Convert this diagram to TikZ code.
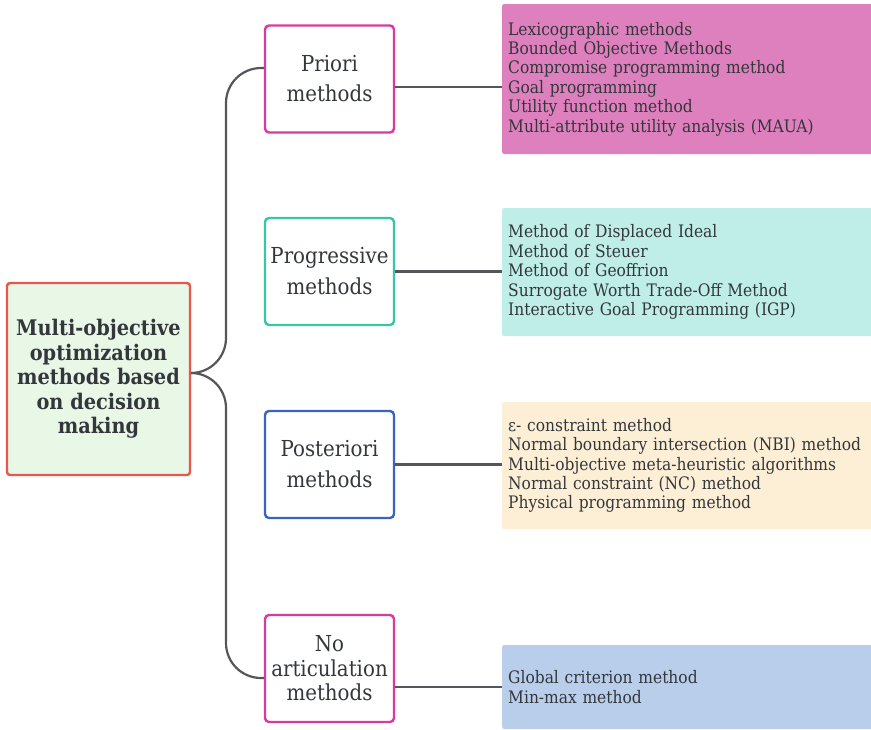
\documentclass[tikz,border=0pt]{standalone}
\usepackage{fontspec}
\setmainfont{DejaVu Serif}[FakeStretch=0.9]

\definecolor{inkgray}{HTML}{33373C}
\definecolor{wire}{HTML}{55565C}
\definecolor{rootfill}{HTML}{E8F7E6}
\definecolor{rootedge}{HTML}{E8584A}
\definecolor{magentaedge}{HTML}{D93AA0}
\definecolor{tealedge}{HTML}{38C7A6}
\definecolor{blueedge}{HTML}{3B64BE}
\definecolor{pinkfill}{HTML}{DE7FBE}
\definecolor{tealfill}{HTML}{BEEEE7}
\definecolor{creamfill}{HTML}{FDEFD6}
\definecolor{bluefill}{HTML}{B8CEEB}

\begin{document}
\begin{tikzpicture}[x=1pt,y=-1pt,
  rootbox/.style={draw=rootedge, fill=rootfill, line width=2.4pt, rounded corners=3pt,
    minimum width=183pt, minimum height=192pt, inner sep=0pt, align=center,
    text=inkgray, font=\bfseries\fontsize{21.5}{24.5}\selectfont},
  groupbox/.style={draw=#1, fill=white, line width=2.4pt, rounded corners=4pt,
    minimum width=129pt, minimum height=107pt, inner sep=0pt, align=center,
    text=inkgray},
  listbox/.style={fill=#1, rounded corners=2pt, minimum width=372pt,
    text width=360pt, inner xsep=6pt, inner ysep=0pt, align=left, anchor=west,
    text=inkgray, font=\fontsize{17.2}{19.4}\selectfont},
  wireline/.style={draw=wire, line width=2.2pt}
]
\useasboundingbox (0,0) rectangle (871,729);

% central topic
\node[rootbox] (root) at (98.5,379)
  {Multi-objective\\optimization\\methods based\\on decision\\making};

% method groups
\node[groupbox=magentaedge, font=\fontsize{22}{30}\selectfont] (priori) at (329.5,79)
  {Priori\\methods};
\node[groupbox=tealedge, font=\fontsize{22}{31}\selectfont] (progressive) at (329.5,271.5)
  {Progressive\\methods};
\node[groupbox=blueedge, font=\fontsize{22}{31}\selectfont] (posteriori) at (329.5,464.5)
  {Posteriori\\methods};
\node[groupbox=magentaedge, font=\fontsize{22}{24.5}\selectfont] (noart) at (329.5,668.5)
  {No\\articulation\\methods};

% lists of methods
\node[listbox=pinkfill, minimum height=150pt] (plist) at (502,79)
  {Lexicographic methods\\
   Bounded Objective Methods\\
   Compromise programming method\\
   Goal programming\\
   Utility function method\\
   Multi-attribute utility analysis (MAUA)};
\node[listbox=tealfill, minimum height=128pt] (glist) at (502,272)
  {Method of Displaced Ideal\\
   Method of Steuer\\
   Method of Geoffrion\\
   Surrogate Worth Trade-Off Method\\
   Interactive Goal Programming (IGP)};
\node[listbox=creamfill, minimum height=127pt] (olist) at (502,465.5)
  {ε- constraint method\\
   Normal boundary intersection (NBI) method\\
   Multi-objective meta-heuristic algorithms\\
   Normal constraint (NC) method\\
   Physical programming method};
\node[listbox=bluefill, minimum height=84pt] (nlist) at (502,687)
  {Global criterion method\\
   Min-max method};

% branches from the central topic
\coordinate (fork) at ([yshift=6pt]root.east);
\coordinate (trunktop) at (226,68);
\coordinate (trunkbot) at (226,678);
\draw[wireline, rounded corners=35pt]
  (fork) -- (fork -| trunktop) -- (trunktop) -- (trunktop -| priori.west);
\draw[wireline, rounded corners=35pt]
  (fork) -- (fork -| trunkbot) -- (trunkbot) -- (trunkbot -| noart.west);

% links from groups to their lists
\coordinate (pout) at ([yshift=-8pt]priori.east);
\draw[wireline] (pout) -- (pout -| plist.west);
\draw[wireline] (progressive.east) -- (progressive.east -| glist.west);
\draw[wireline] (posteriori.east) -- (posteriori.east -| olist.west);
\draw[wireline] (nlist.west -| noart.east) -- (nlist.west);
\end{tikzpicture}
\end{document}
